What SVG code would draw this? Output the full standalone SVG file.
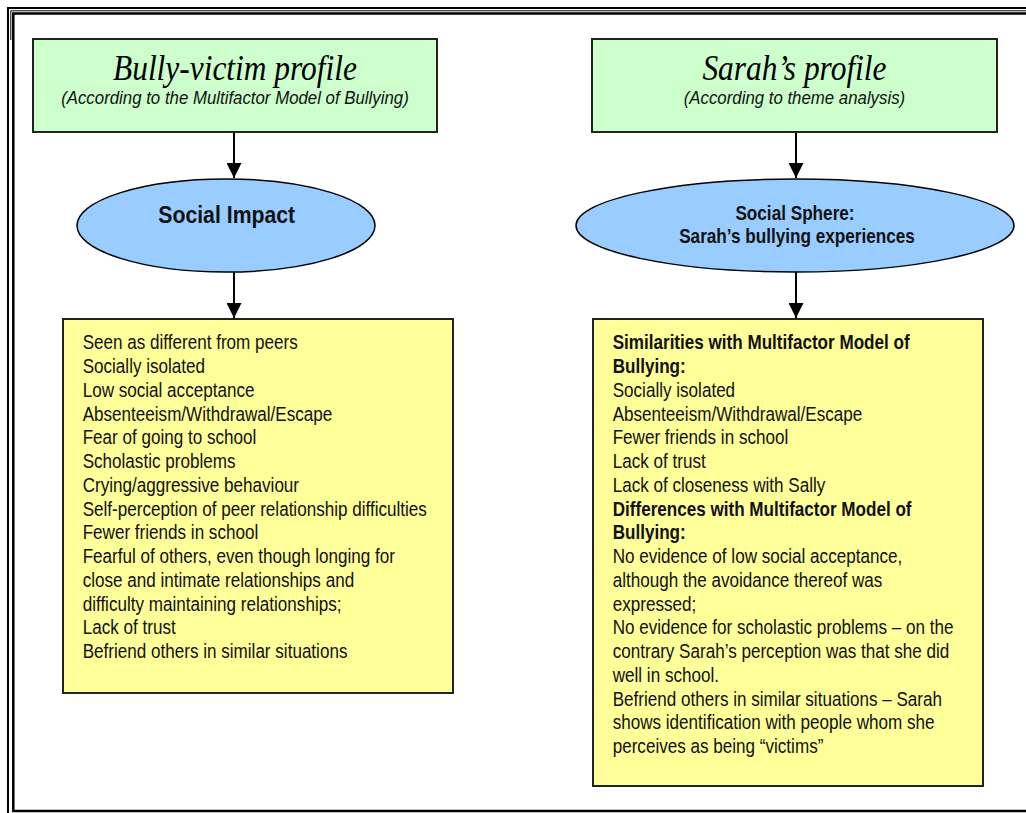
<svg xmlns="http://www.w3.org/2000/svg" width="1026" height="813" viewBox="0 0 1026 813">
  <defs>
    <marker id="arrow" viewBox="0 0 15 15" refX="15" refY="7.5" markerWidth="15" markerHeight="15" markerUnits="userSpaceOnUse" orient="auto">
      <path d="M0,0 L15,7.5 L0,15 Z" fill="#000"/>
    </marker>
    <style>
      .frame { fill: none; stroke: #000; }
      .head { fill: #ccffcc; stroke: #222; stroke-width: 2; }
      .oval { fill: #99ccff; stroke: #000; stroke-width: 1.5; }
      .list { fill: #ffff99; stroke: #222; stroke-width: 2; }
      .edge { stroke: #000; stroke-width: 2; fill: none; marker-end: url(#arrow); }
      .title { font-family: "Liberation Serif", "Times New Roman", serif; font-style: italic; font-size: 35.5px; fill: #000; text-anchor: middle; }
      .sub { font-family: "Liberation Sans", Arial, sans-serif; font-style: italic; font-size: 19px; fill: #111; text-anchor: middle; }
      .ovalText { font-family: "Liberation Sans", Arial, sans-serif; font-weight: bold; fill: #111; text-anchor: middle; }
      .body { font-family: "Liberation Sans", Arial, sans-serif; font-size: 19.3px; fill: #111; }
      .b { font-weight: bold; }
    </style>
  </defs>

  <rect width="1026" height="813" fill="#fff"/>

  <!-- page border -->
  <g id="border">
    <path class="frame" stroke-width="2" d="M1030,8 H8 V820"/>
    <path class="frame" stroke-width="1" d="M1030,10.8 H10.8 V40"/>
    <path class="frame" stroke-width="2.5" d="M1030,13.5 H13.3 V811 H1030"/>
  </g>

  <!-- connectors -->
  <g id="connectors">
    <line class="edge" x1="234" y1="133" x2="234" y2="178"/>
    <line class="edge" x1="234" y1="272" x2="234" y2="318"/>
    <line class="edge" x1="796" y1="133" x2="796" y2="178"/>
    <line class="edge" x1="796" y1="272" x2="796" y2="318"/>
  </g>

  <!-- left column -->
  <g id="bully-victim-profile">
    <rect class="head" x="33" y="39" width="404" height="93"/>
    <g transform="scale(0.885 1)">
      <text class="title" x="265.5" y="80">Bully-victim profile</text>
      <text class="sub" x="265.5" y="104">(According to the Multifactor Model of Bullying)</text>
    </g>
  </g>

  <g id="social-impact">
    <ellipse class="oval" cx="226" cy="225.5" rx="149" ry="46.5"/>
    <g transform="scale(0.885 1)">
      <text class="ovalText" x="256.2" y="223" font-size="24">Social Impact</text>
    </g>
  </g>

  <g id="bully-victim-traits">
    <rect class="list" x="63" y="319" width="390" height="374"/>
    <g transform="scale(0.885 1)">
      <text class="body" x="93.4" y="349.5">
        <tspan x="93.4">Seen as different from peers</tspan>
        <tspan x="93.4" dy="23.75">Socially isolated</tspan>
        <tspan x="93.4" dy="23.75">Low social acceptance</tspan>
        <tspan x="93.4" dy="23.75">Absenteeism/Withdrawal/Escape</tspan>
        <tspan x="93.4" dy="23.75">Fear of going to school</tspan>
        <tspan x="93.4" dy="23.75">Scholastic problems</tspan>
        <tspan x="93.4" dy="23.75">Crying/aggressive behaviour</tspan>
        <tspan x="93.4" dy="23.75">Self-perception of peer relationship difficulties</tspan>
        <tspan x="93.4" dy="23.75">Fewer friends in school</tspan>
        <tspan x="93.4" dy="23.75">Fearful of others, even though longing for</tspan>
        <tspan x="93.4" dy="23.75">close and intimate relationships and</tspan>
        <tspan x="93.4" dy="23.75">difficulty maintaining relationships;</tspan>
        <tspan x="93.4" dy="23.75">Lack of trust</tspan>
        <tspan x="93.4" dy="23.75">Befriend others in similar situations</tspan>
      </text>
    </g>
  </g>

  <!-- right column -->
  <g id="sarah-profile">
    <rect class="head" x="592" y="39" width="405" height="93"/>
    <g transform="scale(0.885 1)">
      <text class="title" x="897.7" y="80">Sarah’s profile</text>
      <text class="sub" x="897.7" y="104">(According to theme analysis)</text>
    </g>
  </g>

  <g id="social-sphere">
    <ellipse class="oval" cx="795" cy="225.5" rx="219" ry="46.5"/>
    <g transform="scale(0.885 1)">
      <text class="ovalText" x="898.3" y="220" font-size="19.4">Social Sphere:</text>
      <text class="ovalText" x="900.6" y="243.3" font-size="19.4">Sarah’s bullying experiences</text>
    </g>
  </g>

  <g id="sarah-comparison">
    <rect class="list" x="593" y="319" width="390" height="467"/>
    <g transform="scale(0.885 1)">
      <text class="body" x="692.3" y="349.5">
        <tspan class="b" x="692.3">Similarities with Multifactor Model of</tspan>
        <tspan class="b" x="692.3" dy="23.75">Bullying:</tspan>
        <tspan x="692.3" dy="23.75">Socially isolated</tspan>
        <tspan x="692.3" dy="23.75">Absenteeism/Withdrawal/Escape</tspan>
        <tspan x="692.3" dy="23.75">Fewer friends in school</tspan>
        <tspan x="692.3" dy="23.75">Lack of trust</tspan>
        <tspan x="692.3" dy="23.75">Lack of closeness with Sally</tspan>
        <tspan class="b" x="692.3" dy="23.75">Differences with Multifactor Model of</tspan>
        <tspan class="b" x="692.3" dy="23.75">Bullying:</tspan>
        <tspan x="692.3" dy="23.75">No evidence of low social acceptance,</tspan>
        <tspan x="692.3" dy="23.75">although the avoidance thereof was</tspan>
        <tspan x="692.3" dy="23.75">expressed;</tspan>
        <tspan x="692.3" dy="23.75">No evidence for scholastic problems – on the</tspan>
        <tspan x="692.3" dy="23.75">contrary Sarah’s perception was that she did</tspan>
        <tspan x="692.3" dy="23.75">well in school.</tspan>
        <tspan x="692.3" dy="23.75">Befriend others in similar situations – Sarah</tspan>
        <tspan x="692.3" dy="23.75">shows identification with people whom she</tspan>
        <tspan x="692.3" dy="23.75">perceives as being “victims”</tspan>
      </text>
    </g>
  </g>
</svg>
